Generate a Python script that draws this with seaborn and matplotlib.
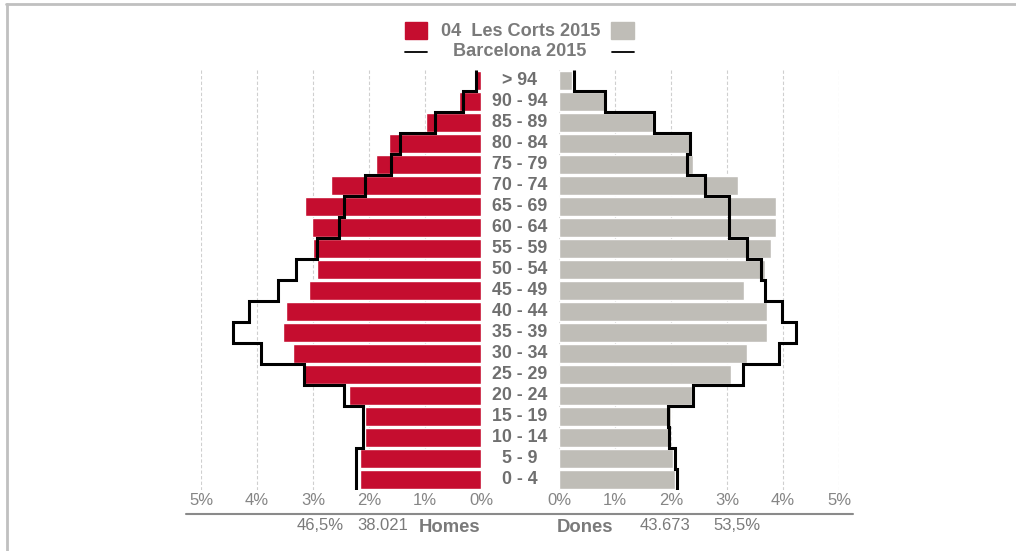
import numpy as np
import matplotlib
matplotlib.use("Agg")
import matplotlib.pyplot as plt
import matplotlib.transforms as mtrans
from matplotlib.patches import Rectangle
from matplotlib.lines import Line2D
import seaborn as sns

# age groups, top to bottom
ages = ["> 94", "90 - 94", "85 - 89", "80 - 84", "75 - 79", "70 - 74", "65 - 69",
        "60 - 64", "55 - 59", "50 - 54", "45 - 49", "40 - 44", "35 - 39", "30 - 34",
        "25 - 29", "20 - 24", "15 - 19", "10 - 14", "5 - 9", "0 - 4"]

# % of population, Les Corts 2015
homes_lc = [0.10, 0.39, 0.99, 1.64, 1.88, 2.68, 3.14, 3.01, 3.00, 2.93,
            3.07, 3.49, 3.53, 3.36, 3.19, 2.36, 2.07, 2.07, 2.16, 2.16]
dones_lc = [0.23, 0.82, 1.68, 2.35, 2.39, 3.20, 3.88, 3.88, 3.79, 3.68,
            3.31, 3.72, 3.72, 3.36, 3.07, 2.38, 2.00, 1.99, 2.04, 2.08]
# % of population, Barcelona 2015
homes_bcn = [0.09, 0.32, 0.82, 1.45, 1.61, 2.07, 2.45, 2.53, 2.93, 3.31,
             3.63, 4.15, 4.42, 3.93, 3.16, 2.45, 2.10, 2.10, 2.23, 2.23]
dones_bcn = [0.26, 0.82, 1.70, 2.34, 2.28, 2.61, 3.04, 3.04, 3.36, 3.60,
             3.68, 3.98, 4.23, 3.93, 3.28, 2.40, 1.94, 1.97, 2.07, 2.10]
ticks = [0, 1, 2, 3, 4, 5]
homes_tot = ["46,5%", "38.021"]
dones_tot = ["43.673", "53,5%"]

RED = "#c50d2f"
GREY = "#bfbdb7"
TXT = "#7a7a7a"

sns.set_style("white")
plt.rcParams["font.family"] = ["Liberation Sans", "DejaVu Sans"]

W, H = 1016, 551
fig = plt.figure(figsize=(W / 100, H / 100), dpi=100)

def fx(px):
    return px / W

def fy(py):
    return 1 - py / H

n = len(ages)
top_px, bot_px = 70, 490
ax_l = fig.add_axes([fx(201), fy(bot_px), fx(280), (bot_px - top_px) / H])
ax_r = fig.add_axes([fx(559), fy(bot_px), fx(280), (bot_px - top_px) / H])

edges = np.arange(n + 1) - 0.5
for ax, vals, bcn, col in [(ax_l, homes_lc, homes_bcn, RED), (ax_r, dones_lc, dones_bcn, GREY)]:
    sns.barplot(x=vals, y=ages, orient="h", color=col, width=0.9, saturation=1,
                ax=ax, zorder=2)
    ax.stairs(bcn, edges, orientation="horizontal", baseline=None,
              color="black", linewidth=2.2, zorder=3)
    ax.set_ylim(n - 0.5, -0.5)
    ax.set_yticks([])
    ax.set_ylabel("")
    ax.set_xticks(ticks)
    ax.set_xticklabels([f"{t}%" for t in ticks], color="#858585", fontsize=12)
    ax.tick_params(axis="x", length=0, pad=2)
    ax.grid(axis="x", color="#cfcfcf", linestyle=(0, (3, 2)), linewidth=0.8, zorder=0)
    ax.set_axisbelow(True)
    for s in ax.spines.values():
        s.set_visible(False)

ax_l.set_xlim(5, 0)
ax_r.set_xlim(0, 5)

# age labels in the gap
tr = mtrans.blended_transform_factory(fig.transFigure, ax_r.transData)
for i, lab in enumerate(ages):
    fig.text(fx(520), i, lab, transform=tr, ha="center", va="center",
             fontsize=12.8, fontweight="bold", color="#6f6f6f")

# axis rule and totals
fig.add_artist(Line2D([fx(186), fx(853)], [fy(514), fy(514)], color="#8a8a8a", lw=1.5))
fig.text(fx(344), fy(526), homes_tot[0], ha="right", va="center", fontsize=12, color=TXT)
fig.text(fx(408), fy(526), homes_tot[1], ha="right", va="center", fontsize=12, color=TXT)
fig.text(fx(480), fy(527), "Homes", ha="right", va="center", fontsize=13.3, fontweight="bold", color=TXT)
fig.text(fx(557), fy(527), "Dones", ha="left", va="center", fontsize=13.3, fontweight="bold", color=TXT)
fig.text(fx(640), fy(526), dones_tot[0], ha="left", va="center", fontsize=12, color=TXT)
fig.text(fx(713), fy(526), dones_tot[1], ha="left", va="center", fontsize=12, color=TXT)

# legend
fig.add_artist(Rectangle((fx(405), fy(39)), fx(22), 17 / H, color=RED))
fig.add_artist(Rectangle((fx(611), fy(39)), fx(23), 17 / H, color=GREY))
fig.text(fx(521), fy(31), "04  Les Corts 2015", ha="center", va="center",
         fontsize=13.1, fontweight="bold", color=TXT)
fig.add_artist(Line2D([fx(405), fx(427)], [fy(52), fy(52)], color="black", lw=1.3))
fig.add_artist(Line2D([fx(612), fx(634)], [fy(52), fy(52)], color="black", lw=1.3))
fig.text(fx(520), fy(52), "Barcelona 2015", ha="center", va="center",
         fontsize=13.1, fontweight="bold", color=TXT)

# frame
fig.add_artist(Line2D([fx(6), 1], [fy(4), fy(4)], color="#c0c0c0", lw=2))
fig.add_artist(Line2D([fx(7), fx(7)], [fy(4), 0], color="#c0c0c0", lw=2))

fig.savefig("out.png", dpi=100)
